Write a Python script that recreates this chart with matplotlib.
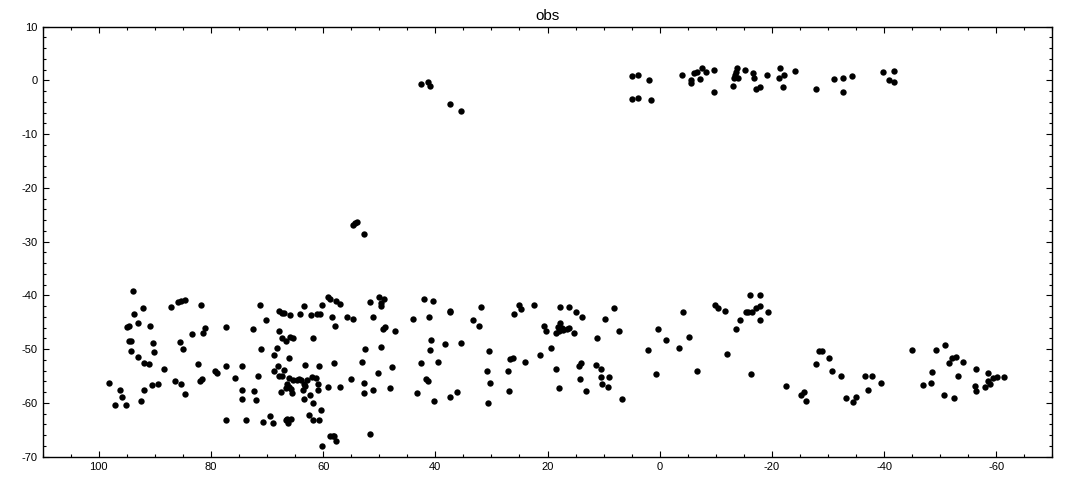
import matplotlib.pyplot as plt
from matplotlib.ticker import MultipleLocator

plt.rcParams["font.family"] = ["Liberation Sans", "DejaVu Sans"]
plt.rcParams["axes.unicode_minus"] = False

# observed points (x, y), read off the reference
# top-right group near y = 0
top_x = [4.9, 3.8, 1.85, 4.9, 3.8, 1.5, -3.9, -5.5, -5.6, -6.2, -6.7, -7.2, -7.6, -8.2,
         -9.6, -9.7, -13.7, -13.6, -13.4, -13.3, -13.9, -13.1, -15.3, -16.7, -16.9,
         -17.2, -17.9, -19.2, -21.5, -22.2, -21.3, -21.9, -24.2, -27.9, -31.1, -32.6,
         -32.6, -34.2, -39.9, -41.7, -40.8, -41.8]
top_y = [0.8, 1.1, 0.0, -3.5, -3.3, -3.7, 0.95, -0.4, 0.0, 1.3, 1.6, 0.2, 2.4, 1.5,
         1.9, -2.2, 2.4, 1.6, 1.1, 0.4, 0.4, -1.1, 1.9, 1.3, 0.4,
         -1.5, -1.3, 1.1, 2.25, 1.1, 0.4, -1.3, 1.7, -1.5, 0.2, 0.4,
         -2.2, 0.8, 1.5, 1.7, 0.0, -0.2]

# small groups in the middle
mid_x = [42.5, 41.25, 40.9, 37.3, 35.4, 54.7, 54.3, 53.9, 52.7]
mid_y = [-0.7, -0.2, -1.1, -4.3, -5.6, -26.8, -26.6, -26.3, -28.6]

# main band, left part (x > 72)
band1_x = [93.85, 87.1, 85.8, 85.4, 84.7, 81.7, 92.1, 93.7, 93.0, 90.8, 95.0, 94.7,
           83.3, 81.5, 81.0, 77.3, 94.7, 94.3, 90.3, 85.5, 84.9, 94.2, 90.1, 93.0,
           91.9, 91.1, 82.4, 88.3, 79.2, 78.9, 77.4, 74.4, 98.1, 75.7, 86.5, 85.3,
           81.9, 81.6, 89.5, 90.5, 91.9, 96.2, 95.8, 84.6, 74.5, 74.4, 97.1, 95.1,
           92.4, 77.3, 73.7]
band1_y = [-39.2, -42.2, -41.3, -41.0, -40.9, -41.7, -42.4, -43.5, -45.2, -45.6, -45.9, -45.6,
           -47.2, -46.9, -46.1, -45.9, -48.5, -48.5, -48.9, -48.7, -50.0, -50.4, -50.6, -51.5,
           -52.6, -52.8, -52.8, -53.6, -54.0, -54.4, -53.2, -53.2, -56.2, -55.4, -55.9, -56.4,
           -56.0, -55.6, -56.4, -56.7, -57.5, -57.5, -58.8, -58.4, -57.5, -59.3, -60.3, -60.45,
           -59.7, -63.2, -63.2]

# main band, x between 45 and 72
band2_x = [71.2, 72.45, 70.1, 71.0, 71.7, 72.3, 71.9, 70.7, 68.9, 69.4,
           67.8, 67.3, 66.9, 65.85, 63.5, 64.1, 62.1, 61.1, 60.55, 60.15, 59.2, 58.8,
           57.65, 57.0, 58.4, 57.8, 55.8, 54.6, 51.6, 50.0, 49.1, 49.6, 49.7, 51.05,
           49.3, 48.9, 47.1, 67.8, 67.3, 66.6, 65.85, 65.3, 61.75, 68.2, 68.7, 66.0,
           68.0, 68.7, 66.9, 67.8, 67.3, 67.6,
           66.0, 66.4, 66.0, 66.6, 65.7, 65.5, 65.3, 64.7, 64.25, 63.9, 63.5, 63.2,
           63.65, 62.9, 61.9, 61.2, 61.0, 60.85, 62.35, 63.5, 61.75,
           63.2, 60.7, 58.0, 62.6, 61.75, 60.7, 60.3, 66.7, 66.2, 65.8, 66.4,
           59.1, 57.0, 58.8, 58.3, 58.0, 57.65, 60.2, 55.0, 53.0, 52.5, 52.65, 52.8,
           51.05, 50.2, 49.6, 47.7, 48.0, 51.6]
band2_y = [-41.7, -46.3, -44.6, -50.0, -54.9, -57.8, -59.5, -63.6, -63.8, -62.5,
           -42.9, -43.2, -43.3, -43.7, -42.0, -43.5, -43.7, -43.4, -43.5, -41.7, -40.2, -40.7,
           -41.1, -41.5, -44.1, -45.6, -44.1, -44.3, -41.3, -40.2, -40.7, -41.4, -41.9, -44.1,
           -46.2, -45.8, -46.7, -46.7, -48.0, -48.5, -47.8, -48.0, -48.0, -49.8, -51.0, -51.7,
           -53.2, -54.1, -53.9, -54.9, -55.05, -58.0,
           -55.4, -56.4, -57.0, -57.2, -57.35, -58.2, -55.7, -55.7, -55.5, -55.7, -56.4, -56.85,
           -57.5, -55.7, -55.1, -55.4, -56.5, -57.6, -58.6, -59.3, -60.1,
           -53.0, -53.2, -52.6, -62.3, -63.2, -63.2, -61.4, -63.1, -63.7, -62.9, -63.0,
           -57.1, -57.1, -66.15, -66.1, -66.2, -67.1, -68.0, -55.6, -52.3, -50.0, -56.35, -58.2,
           -57.5, -54.5, -49.5, -53.4, -57.3, -65.7]

# main band, x between 15 and 45
band3_x = [43.9, 42.0, 40.4, 41.1, 37.45, 37.3, 33.2, 32.3, 31.8, 25.9, 25.0, 24.7,
           22.35, 17.7, 16.1, 20.6, 20.2, 17.8, 18.1, 17.5, 18.4, 17.9, 17.2, 16.6, 16.1,
           40.7, 40.9, 38.2, 35.4, 42.5, 39.5, 41.7, 41.25, 43.2, 40.2, 37.3, 36.1,
           30.4, 30.7, 30.2, 30.56, 27.0, 26.8, 26.6, 26.1, 24.1, 21.3, 19.3, 18.4, 17.9]
band3_y = [-44.4, -40.7, -41.1, -44.1, -42.9, -43.1, -44.6, -45.6, -42.2, -43.5, -41.7, -42.6,
           -41.8, -42.2, -42.2, -45.75, -46.7, -45.2, -45.8, -46.1, -46.9, -46.7, -46.4, -46.3, -46.1,
           -48.35, -50.2, -49.1, -48.9, -52.6, -52.45, -55.6, -56.0, -58.2, -59.7, -58.8, -58.0,
           -50.4, -54.1, -56.2, -60.1, -54.1, -57.7, -51.9, -51.7, -52.45, -51.0, -49.8, -53.6, -57.3]

# main band, x between -13 and 15
band4_x = [14.9, 13.8, 15.3, 8.1, 9.7, 7.2, 11.1, 14.3, 13.97, 14.15, 13.1, 11.3, 10.4,
           10.4, 9.0, 10.2, 9.3, 6.66, 2.0, 0.6, 0.24, -1.2, -3.5, -4.2, -5.3, -6.7,
           -9.8, -10.45, -11.7, -12.05]
band4_y = [-43.0, -44.1, -46.9, -42.4, -44.45, -46.7, -48.0, -53.2, -52.6, -55.6, -57.8, -53.0, -53.6,
           -55.2, -55.2, -56.5, -57.1, -59.2, -50.2, -54.7, -46.3, -48.2, -49.8, -43.1, -47.8, -54.1,
           -41.8, -42.4, -42.8, -50.8]

# main band, right part (x < -13)
band5_x = [-13.6, -14.4, -15.4, -15.8, -16.5, -17.2, -17.9, -16.15, -17.8, -17.8, -19.4,
           -16.3, -22.6, -25.2, -25.8, -26.0, -27.9, -28.45, -29.0, -30.1, -30.8, -32.4,
           -33.3, -34.5, -35.05, -36.65, -37.9, -37.2, -39.5,
           -45.0, -49.3, -50.9, -52.2, -52.9, -51.6, -54.1, -48.6, -53.2, -47.0, -48.4,
           -50.75, -52.5, -56.45, -58.6, -56.3, -56.45, -58.05, -58.6, -58.95, -59.5,
           -60.2, -61.3]
band5_y = [-46.3, -44.6, -43.0, -43.15, -43.15, -42.4, -42.0, -40.0, -40.0, -44.6, -43.15,
           -54.7, -56.9, -58.6, -58.0, -59.7, -52.8, -50.4, -50.4, -51.7, -54.1, -55.05,
           -59.1, -59.9, -58.8, -54.9, -54.9, -57.5, -56.2,
           -50.2, -50.2, -49.3, -51.7, -51.5, -52.6, -52.3, -54.3, -54.9, -56.7, -56.2,
           -58.6, -59.0, -53.75, -54.5, -56.9, -57.8, -57.1, -56.0, -56.5, -55.4,
           -55.2, -55.2]

xs = top_x + mid_x + band1_x + band2_x + band3_x + band4_x + band5_x
ys = top_y + mid_y + band1_y + band2_y + band3_y + band4_y + band5_y

fig = plt.figure(figsize=(10.67, 4.8), dpi=100)
ax = fig.add_axes([42.7 / 1067, 1 - 456.7 / 480, 1009.6 / 1067, 430 / 480])

ax.scatter(xs, ys, s=21, color="black", linewidths=0, zorder=3)

ax.set_xlim(110, -70)
ax.set_ylim(-70, 10)
ax.xaxis.set_major_locator(MultipleLocator(20))
ax.xaxis.set_minor_locator(MultipleLocator(5))
ax.yaxis.set_major_locator(MultipleLocator(10))
ax.yaxis.set_minor_locator(MultipleLocator(2))
ax.tick_params(which="both", direction="in", top=True, right=True, labelsize=8, width=0.8)
ax.tick_params(which="major", length=4)
ax.tick_params(which="minor", length=2)
for s in ax.spines.values():
    s.set_linewidth(1.0)

ax.set_title("obs", fontsize=11, pad=5)

fig.savefig("out.png", dpi=100)
